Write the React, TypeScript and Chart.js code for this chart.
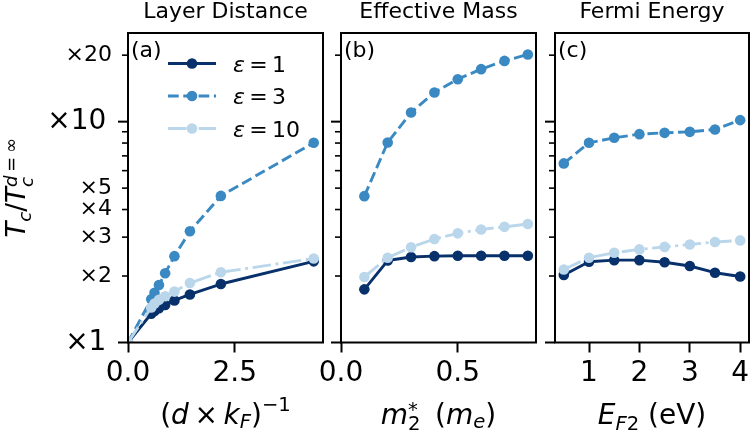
import React, { useEffect, useRef } from 'react';
import { Chart, registerables } from 'chart.js';

Chart.register(...registerables);

const FONT = '"DejaVu Sans", "Liberation Sans", sans-serif';
const TS = '\u2009';
const LINE_W = 2.9;
const MARKER_R = 5.3;

// (a) Layer distance: inverse layer separation (d·k_F)^-1
const layerX = [0, 0.544, 0.621, 0.725, 0.87, 1.0875, 1.45, 2.175, 4.35];
const layerEps1 = [1, 1.35, 1.39, 1.43, 1.48, 1.55, 1.65, 1.84, 2.33];
const layerEps3 = [1, 1.57, 1.68, 1.82, 2.06, 2.46, 3.19, 4.61, 8.03];
const layerEps10 = [1, 1.44, 1.5, 1.56, 1.62, 1.7, 1.86, 2.08, 2.4];

// (b) Effective mass m2* in units of m_e
const massX = [0.1, 0.2, 0.3, 0.4, 0.5, 0.6, 0.7, 0.8];
const massEps1 = [1.74, 2.35, 2.44, 2.46, 2.47, 2.47, 2.47, 2.47];
const massEps3 = [4.6, 8.05, 11.0, 13.55, 15.57, 17.29, 18.84, 20.14];
const massEps10 = [1.98, 2.42, 2.7, 2.94, 3.12, 3.25, 3.34, 3.44];

// (c) Fermi energy E_F2 in eV
const fermiX = [0.5, 1, 1.5, 2, 2.5, 3, 3.5, 4];
const fermiEps1 = [2.02, 2.32, 2.36, 2.36, 2.31, 2.22, 2.07, 1.99];
const fermiEps3 = [6.47, 8.02, 8.45, 8.78, 8.9, 8.99, 9.22, 10.16];
const fermiEps10 = [2.14, 2.42, 2.55, 2.64, 2.71, 2.78, 2.85, 2.9];

const epsilonValues = ['1', '3', '10'];
const yTicks = [1, 2, 3, 4, 5, 6, 7, 8, 9, 10, 20];
const yTickText = ['×1', '×2', '×3', '×4', '×5', '', '', '', '', '×10', '×20'];
const yMajor = [1, 10];
const layerXTicks = [0, 2.5];
const layerXTickText = ['0.0', '2.5'];
const massXTicks = [0, 0.5];
const massXTickText = ['0.0', '0.5'];
const fermiXTicks = [1, 2, 3, 4];
const fermiXTickText = ['1', '2', '3', '4'];
const titles = ['Layer Distance', 'Effective Mass', 'Fermi Energy'];
const tags = ['(a)', '(b)', '(c)'];

const seriesStyle = [
  { color: '#08306b', dash: [] as number[] },
  { color: '#3a89c2', dash: [10.7, 4.6] },
  { color: '#bad6eb', dash: [18.5, 4.6, 2.9, 4.6] },
];

type Seg = { t: string; it?: boolean; s?: number; dy?: number; stack?: boolean };

const yLabel: Seg[] = [
  { t: 'T', it: true },
  { t: 'c', it: true, s: 0.7, dy: -0.22 },
  { t: '/' },
  { t: 'T', it: true },
  { t: 'c', it: true, s: 0.7, dy: -0.3, stack: true },
  { t: 'd', it: true, s: 0.7, dy: 0.3 },
  { t: `${TS}=${TS}∞`, s: 0.7, dy: 0.3 },
];

const xLabels: Seg[][] = [
  [
    { t: '(' },
    { t: 'd', it: true },
    { t: `${TS}×${TS}` },
    { t: 'k', it: true },
    { t: 'F', it: true, s: 0.7, dy: -0.15 },
    { t: ')' },
    { t: '−1', s: 0.7, dy: 0.45 },
  ],
  [
    { t: 'm', it: true },
    { t: '2', s: 0.7, dy: -0.2, stack: true },
    { t: '*', s: 0.7, dy: 0.3 },
    { t: ` ${TS}(` },
    { t: 'm', it: true },
    { t: 'e', it: true, s: 0.7, dy: -0.15 },
    { t: ')' },
  ],
  [
    { t: 'E', it: true },
    { t: 'F', it: true, s: 0.7, dy: -0.2 },
    { t: '2', s: 0.7, dy: -0.2 },
    { t: ' (eV)' },
  ],
];

function segFont(size: number, seg: Seg) {
  return `${seg.it ? 'italic ' : ''}${size * (seg.s ?? 1)}px ${FONT}`;
}

function layoutRich(ctx: CanvasRenderingContext2D, segs: Seg[], size: number) {
  let x = 0;
  let minX = 0;
  const pos: number[] = [];
  for (const seg of segs) {
    ctx.font = segFont(size, seg);
    const w = ctx.measureText(seg.t).width;
    if ((seg.s ?? 1) === 1) x = Math.max(x, minX);
    pos.push(x);
    if (seg.stack) {
      minX = x + w;
    } else {
      x += w;
    }
  }
  return { pos, width: Math.max(x, minX) };
}

function drawRich(
  ctx: CanvasRenderingContext2D,
  segs: Seg[],
  x: number,
  y: number,
  size: number,
  align: 'center' | 'left'
) {
  const { pos, width } = layoutRich(ctx, segs, size);
  const x0 = align === 'center' ? x - width / 2 : x;
  ctx.textAlign = 'left';
  ctx.textBaseline = 'alphabetic';
  segs.forEach((seg, i) => {
    ctx.font = segFont(size, seg);
    ctx.fillText(seg.t, x0 + pos[i], y - (seg.dy ?? 0) * size);
  });
}

type PanelCfg = {
  idx: number;
  left: number;
  width: number;
  yWidth: number;
  padRight: number;
  xMin: number;
  xMax: number;
  xTicks: number[];
  xTickText: string[];
  x: number[];
  series: number[][];
  yLabels: boolean;
};

const panels: PanelCfg[] = [
  {
    idx: 0, left: 0, width: 330, yWidth: 128, padRight: 7,
    xMin: 0, xMax: 4.5675, xTicks: layerXTicks, xTickText: layerXTickText,
    x: layerX, series: [layerEps1, layerEps3, layerEps10], yLabels: true,
  },
  {
    idx: 1, left: 300, width: 250, yWidth: 41, padRight: 14,
    xMin: 0, xMax: 0.835, xTicks: massXTicks, xTickText: massXTickText,
    x: massX, series: [massEps1, massEps3, massEps10], yLabels: false,
  },
  {
    idx: 2, left: 530, width: 230, yWidth: 25, padRight: 11,
    xMin: 0.325, xMax: 4.175, xTicks: fermiXTicks, xTickText: fermiXTickText,
    x: fermiX, series: [fermiEps1, fermiEps3, fermiEps10], yLabels: false,
  },
];

function Panel({ cfg }: { cfg: PanelCfg }) {
  const ref = useRef<HTMLCanvasElement>(null);

  useEffect(() => {
    const canvas = ref.current;
    if (!canvas) return;

    const deco = {
      id: 'deco',
      afterDraw(chart: any) {
        const { ctx, chartArea: a, scales } = chart;
        const ys = scales.y;
        ctx.save();
        ctx.strokeStyle = '#000';
        ctx.setLineDash([]);
        // log-axis tick marks: long at decades, short elsewhere
        yTicks.forEach((v) => {
          const py = ys.getPixelForValue(v);
          const major = yMajor.includes(v);
          ctx.lineWidth = major ? 2 : 1.6;
          ctx.beginPath();
          ctx.moveTo(a.left - (major ? 10 : 6), py);
          ctx.lineTo(a.left, py);
          ctx.stroke();
        });
        // axes frame
        ctx.lineWidth = 2;
        ctx.strokeRect(a.left, a.top, a.right - a.left, a.bottom - a.top);

        ctx.fillStyle = '#000';
        const cx = (a.left + a.right) / 2;
        ctx.font = `22px ${FONT}`;
        ctx.textAlign = 'center';
        ctx.textBaseline = 'alphabetic';
        ctx.fillText(titles[cfg.idx], cx, 17.5);
        ctx.textAlign = 'left';
        ctx.fillText(tags[cfg.idx], a.left + 3, a.top + 24);

        drawRich(ctx, xLabels[cfg.idx], cx, 424, 28, 'center');

        if (cfg.idx === 0) {
          ctx.save();
          ctx.translate(25, (a.top + a.bottom) / 2);
          ctx.rotate(-Math.PI / 2);
          drawRich(ctx, yLabel, 0, 0, 26, 'center');
          ctx.restore();

          const rows = [a.top + 30.5, a.top + 63, a.top + 95.5];
          seriesStyle.forEach((st, i) => {
            const ry = rows[i];
            ctx.strokeStyle = st.color;
            ctx.lineWidth = LINE_W;
            ctx.setLineDash(st.dash);
            ctx.beginPath();
            ctx.moveTo(a.left + 40, ry);
            ctx.lineTo(a.left + 88, ry);
            ctx.stroke();
            ctx.setLineDash([]);
            ctx.fillStyle = st.color;
            ctx.beginPath();
            ctx.arc(a.left + 64, ry, MARKER_R, 0, Math.PI * 2);
            ctx.fill();
            ctx.fillStyle = '#000';
            drawRich(
              ctx,
              [{ t: 'ε', it: true }, { t: `${TS}=${TS}${epsilonValues[i]}` }],
              a.left + 105,
              ry + 8,
              22,
              'left'
            );
          });
        }
        ctx.restore();
      },
    };

    const datasets = cfg.series.map((vals, i) => ({
      label: `ε = ${epsilonValues[i]}`,
      data: cfg.x.map((xv, j) => ({ x: xv, y: vals[j] })),
      borderColor: seriesStyle[i].color,
      backgroundColor: seriesStyle[i].color,
      pointBackgroundColor: seriesStyle[i].color,
      pointBorderColor: seriesStyle[i].color,
      borderWidth: LINE_W,
      borderDash: seriesStyle[i].dash,
      borderJoinStyle: 'round' as const,
      pointRadius: MARKER_R,
      pointHoverRadius: MARKER_R,
      pointBorderWidth: 0,
      tension: 0,
      fill: false,
      order: 2 - i,
    }));

    const chart = new Chart(canvas, {
      type: 'line',
      data: { datasets },
      options: {
        animation: false,
        responsive: false,
        devicePixelRatio: 1,
        events: [],
        layout: { padding: { top: 33, right: cfg.padRight, left: 0, bottom: 0 } },
        plugins: {
          legend: { display: false },
          tooltip: { enabled: false },
          title: { display: false },
        },
        scales: {
          x: {
            type: 'linear',
            min: cfg.xMin,
            max: cfg.xMax,
            afterBuildTicks: (s: any) => {
              s.ticks = cfg.xTicks.map((v) => ({ value: v }));
            },
            afterFit: (s: any) => {
              s.height = 90.5;
            },
            ticks: {
              color: '#000',
              font: { family: FONT, size: 28 },
              padding: 4,
              autoSkip: false,
              maxRotation: 0,
              minRotation: 0,
              callback: (_v: any, i: number) => cfg.xTickText[i],
            },
            grid: {
              display: true,
              drawOnChartArea: false,
              drawTicks: true,
              tickLength: 10,
              tickWidth: 2,
              tickColor: '#000',
            },
            border: { display: false },
          },
          y: {
            type: 'logarithmic',
            min: 1,
            max: 25.2,
            afterBuildTicks: (s: any) => {
              s.ticks = yTicks.map((v) => ({ value: v }));
            },
            afterFit: (s: any) => {
              s.width = cfg.yWidth;
            },
            ticks: {
              display: cfg.yLabels,
              color: '#000',
              padding: 10,
              autoSkip: false,
              font: (c: any) => ({
                family: FONT,
                size: c.tick && yMajor.includes(c.tick.value) ? 28 : 22,
              }),
              callback: (v: any) => {
                const k = yTicks.indexOf(Number(v));
                if (k < 0) return '';
                return yMajor.includes(Number(v)) ? yTickText[k] + TS : yTickText[k];
              },
            },
            grid: { display: false, drawTicks: true, tickLength: 6 },
            border: { display: false },
          },
        },
      },
      plugins: [deco],
    } as any);

    return () => chart.destroy();
  }, [cfg]);

  return (
    <canvas
      ref={ref}
      width={cfg.width}
      height={433}
      style={{ position: 'absolute', left: cfg.left, top: 0, width: cfg.width, height: 433 }}
    />
  );
}

export default function App() {
  return (
    <div
      style={{
        position: 'fixed',
        left: 0,
        top: 0,
        width: 751,
        height: 433,
        overflow: 'hidden',
        background: '#fff',
      }}
    >
      {panels.map((p) => (
        <Panel key={p.idx} cfg={p} />
      ))}
    </div>
  );
}
